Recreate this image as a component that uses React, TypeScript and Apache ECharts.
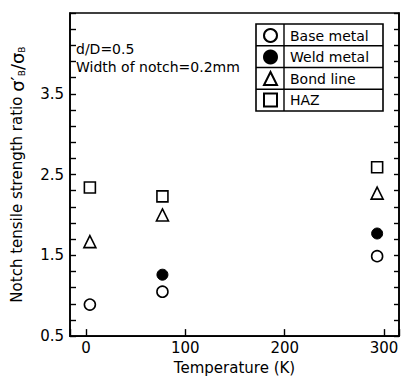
import React, { useEffect, useRef } from "react";
import * as echarts from "echarts";

const temperatures = [4, 77, 293];
const baseMetal = [0.89, 1.05, 1.49];
const weldMetal: (number | null)[] = [null, 1.26, 1.77];
const bondLine = [1.67, 2.0, 2.27];
const haz = [2.34, 2.23, 2.59];
const yTickLabels = ["0.5", "1.5", "2.5", "3.5"];
const xTickLabels = ["0", "100", "200", "300"];
const legendNames = ["Base metal", "Weld metal", "Bond line", "HAZ"];

const Y_BASE = 0.5;
const FONT = "DejaVu Sans";

function pts(vals: (number | null)[]) {
  const out: number[][] = [];
  vals.forEach((v, i) => {
    if (v != null) out.push([temperatures[i], v - Y_BASE]);
  });
  return out;
}

export default function App() {
  const ref = useRef<HTMLDivElement>(null);
  useEffect(() => {
    if (!ref.current) return;
    const chart = echarts.init(ref.current, null, { renderer: "svg" });
    const openStyle = { color: "#fff", borderColor: "#000", borderWidth: 1.6, opacity: 1 };
    chart.setOption({
      animation: false,
      backgroundColor: "#fff",
      textStyle: { fontFamily: FONT, color: "#000" },
      grid: {
        left: 66,
        top: 13,
        right: 1,
        bottom: 37,
        show: true,
        borderColor: "#000",
        borderWidth: 1.6,
        backgroundColor: "transparent",
      },
      xAxis: {
        type: "value",
        min: -16,
        max: 315,
        splitNumber: 3,
        minInterval: 100,
        maxInterval: 100,
        splitLine: { show: false },
        axisLine: { show: true, onZero: false, lineStyle: { color: "#000", width: 1.6 } },
        axisTick: { show: true, inside: true, length: 7, lineStyle: { color: "#000", width: 1.4 } },
        axisLabel: {
          margin: 4,
          fontSize: 15,
          fontFamily: FONT,
          color: "#000",
          formatter: (v: number) => (xTickLabels.includes(String(v)) ? String(v) : ""),
        },
        name: "Temperature (K)",
        nameLocation: "middle",
        nameGap: 23,
        nameTextStyle: { fontSize: 15, fontFamily: FONT, color: "#000" },
      },
      yAxis: [
        {
          type: "value",
          min: 0,
          max: 4,
          interval: 0.2,
          position: "left",
          splitLine: { show: false },
          axisLine: { show: true, onZero: false, lineStyle: { color: "#000", width: 1.6 } },
          axisTick: { show: true, inside: true, length: 6, lineStyle: { color: "#000", width: 1.4 } },
          axisLabel: {
            margin: 6,
            fontSize: 15,
            fontFamily: FONT,
            color: "#000",
            formatter: (v: number) => {
              const s = (v + Y_BASE).toFixed(1);
              return Math.abs(v - Math.round(v)) < 1e-6 && yTickLabels.includes(s) ? s : "";
            },
          },
          name: "{t|Notch tensile strength ratio }{g|σ′}{s|B}{g|/σ}{s|B}",
          nameLocation: "middle",
          nameGap: 44,
          nameTextStyle: {
            rich: {
              t: { fontSize: 15, fontFamily: FONT, color: "#000" },
              g: { fontSize: 18, fontFamily: FONT, color: "#000" },
              s: { fontSize: 9, fontFamily: FONT, color: "#000", verticalAlign: "bottom", padding: [8, 0, 0, 0] },
            },
          },
        },
        {
          type: "value",
          min: 0,
          max: 4,
          interval: 0.2,
          position: "right",
          splitLine: { show: false },
          axisLine: { show: true, onZero: false, lineStyle: { color: "#000", width: 1.6 } },
          axisTick: { show: true, inside: true, length: 5, lineStyle: { color: "#000", width: 1.4 } },
          axisLabel: { show: false },
        },
      ],
      legend: {
        orient: "vertical",
        left: 263,
        top: 28,
        padding: 0,
        itemWidth: 13,
        itemHeight: 13,
        itemGap: 6.5,
        data: legendNames,
        textStyle: { fontSize: 14, fontFamily: FONT, color: "#000", padding: [0, 0, 0, 8], lineHeight: 13 },
      },
      graphic: [
        { type: "text", left: 76, top: 42, style: { text: "d/D=0.5", fontSize: 14, fontFamily: FONT, fill: "#000" } },
        { type: "text", left: 76, top: 60, style: { text: "Width of notch=0.2mm", fontSize: 14, fontFamily: FONT, fill: "#000" } },
        { type: "rect", shape: { x: 256, y: 24, width: 127, height: 87 }, style: { fill: "none", stroke: "#000", lineWidth: 1.6 } },
        { type: "line", shape: { x1: 284, y1: 24, x2: 284, y2: 111 }, style: { stroke: "#000", lineWidth: 1.4 } },
        { type: "line", shape: { x1: 256, y1: 45.75, x2: 383, y2: 45.75 }, style: { stroke: "#000", lineWidth: 1.4 } },
        { type: "line", shape: { x1: 256, y1: 67.5, x2: 383, y2: 67.5 }, style: { stroke: "#000", lineWidth: 1.4 } },
        { type: "line", shape: { x1: 256, y1: 89.25, x2: 383, y2: 89.25 }, style: { stroke: "#000", lineWidth: 1.4 } },
      ],
      series: [
        { name: legendNames[0], type: "scatter", symbol: "circle", symbolSize: 11, data: pts(baseMetal), itemStyle: openStyle },
        { name: legendNames[1], type: "scatter", symbol: "circle", symbolSize: 11, data: pts(weldMetal), itemStyle: { color: "#000", borderColor: "#000", borderWidth: 1, opacity: 1 } },
        { name: legendNames[2], type: "scatter", symbol: "triangle", symbolSize: 12, data: pts(bondLine), itemStyle: openStyle },
        { name: legendNames[3], type: "scatter", symbol: "rect", symbolSize: 11, data: pts(haz), itemStyle: openStyle },
      ],
    });
    return () => chart.dispose();
  }, []);
  return <div ref={ref} style={{ width: 402, height: 380, position: "absolute", left: 0, top: 0 }} />;
}
